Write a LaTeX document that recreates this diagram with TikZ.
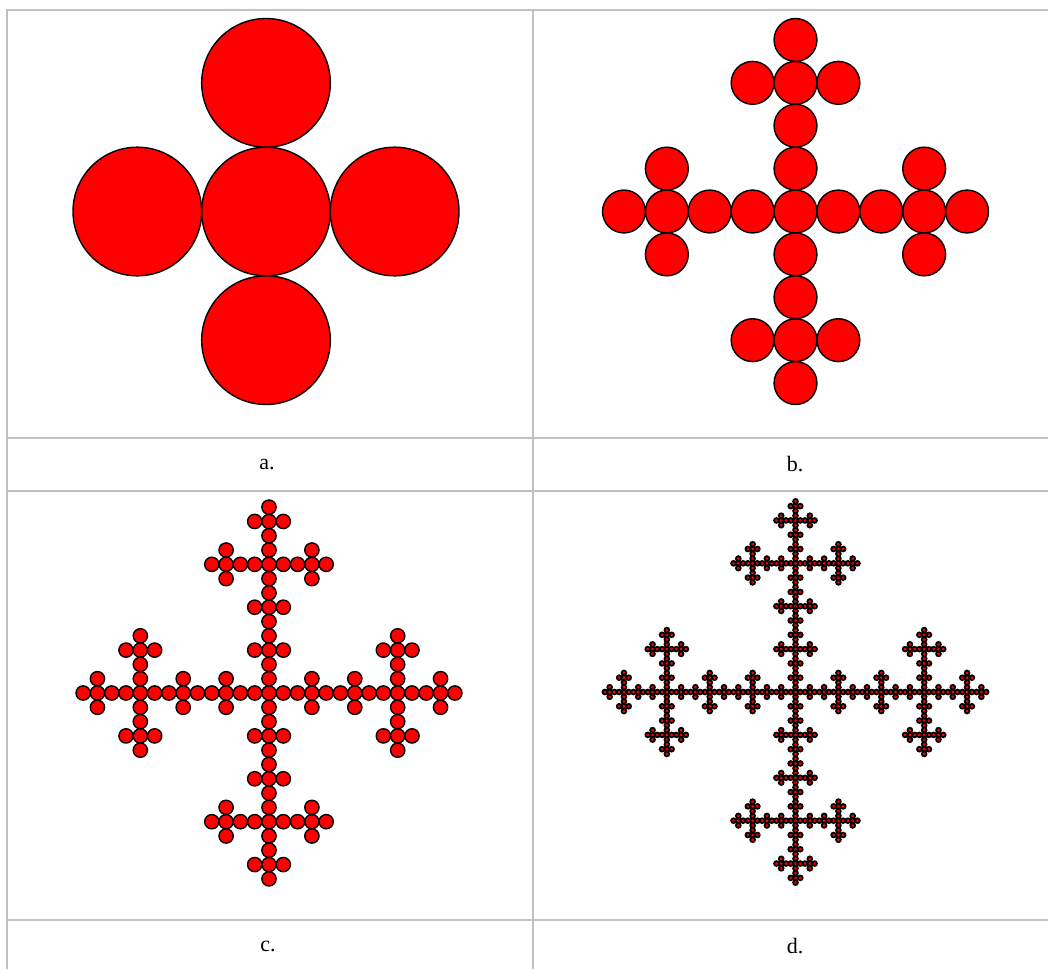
\documentclass[tikz,border=0pt]{standalone}
\usepackage{fontspec}
\setmainfont{Liberation Serif}
\definecolor{rulegray}{RGB}{192,192,192}
\tikzset{
  disc/.style={fill=red, draw=black, line width=1.4pt},
  cellrule/.style={draw=rulegray, line width=2pt},
  caption/.style={font=\fontsize{22}{26}\selectfont, inner sep=0pt}
}
\def\arms{0/0,1/0,-1/0,0/1,0/-1}
\begin{document}
\begin{tikzpicture}[x=1pt, y=-1pt]
    \useasboundingbox (0,0) rectangle (1048,969);

    % Table rules
    \draw[cellrule] (7,969) -- (7,10) -- (1048,10);
    \draw[cellrule] (533,10) -- (533,969);
    \draw[cellrule] (7,437.7) -- (1048,437.7);
    \draw[cellrule] (7,490.7) -- (1048,490.7);
    \draw[cellrule] (7,920) -- (1048,920);

    % a. one step: five discs
    \foreach \ax/\ay in \arms
        \draw[disc] ({266+128.67*\ax},{211.5+128.67*\ay}) circle (64.33pt);

    % b. two steps
    \foreach \ax/\ay in \arms
      \foreach \bx/\by in \arms
        \draw[disc] ({795.5+128.67*\ax+42.89*\bx},{211.5+128.67*\ay+42.89*\by})
            circle (21.44pt);

    % c. three steps
    \foreach \ax/\ay in \arms
      \foreach \bx/\by in \arms
        \foreach \cx/\cy in \arms
          \draw[disc] ({269+128.67*\ax+42.89*\bx+14.30*\cx},
                       {693+128.67*\ay+42.89*\by+14.30*\cy}) circle (7.15pt);

    % d. four steps
    \foreach \ax/\ay in \arms
      \foreach \bx/\by in \arms
        \foreach \cx/\cy in \arms
          \foreach \dx/\dy in \arms
            \draw[disc, line width=1.8pt]
                ({795.5+128.67*\ax+42.89*\bx+14.30*\cx+4.765*\dx},
                 {692+128.67*\ay+42.89*\by+14.30*\cy+4.765*\dy}) circle (2.383pt);

    % Captions
    \node[caption] (capa) at (267,464) {a.};
    \node[caption] (capb) at (795,464) {b.};
    \node[caption] (capc) at (268,946) {c.};
    \node[caption] (capd) at (795,946) {d.};
\end{tikzpicture}
\end{document}
